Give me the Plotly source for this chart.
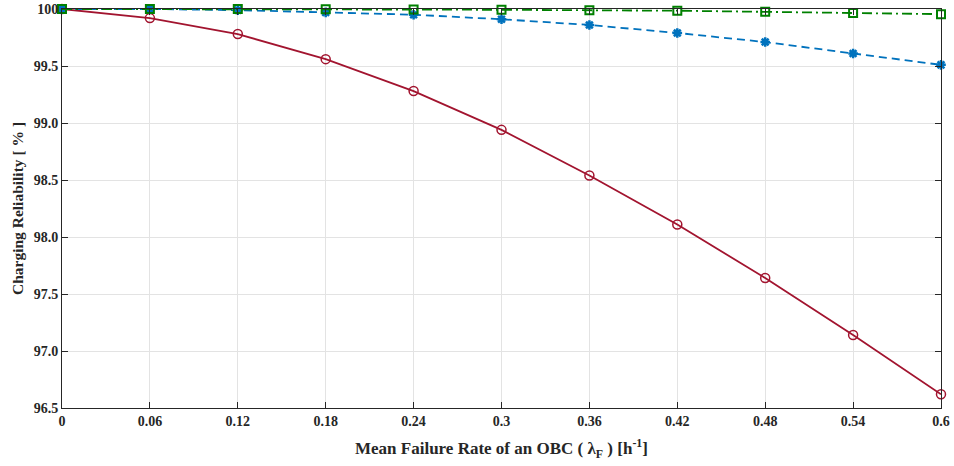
import plotly.graph_objects as go

# Mean failure rate of an OBC (per hour)
failure_rate = [0, 0.06, 0.12, 0.18, 0.24, 0.3, 0.36, 0.42, 0.48, 0.54, 0.6]

# Charging reliability [%] for the three configurations
reliability_red = [100.0, 99.92, 99.78, 99.56, 99.28, 98.94, 98.54, 98.11, 97.64, 97.14, 96.62]
reliability_blue = [100.0, 100.0, 99.99, 99.97, 99.95, 99.91, 99.86, 99.79, 99.71, 99.61, 99.51]
reliability_green = [100.0, 100.0, 100.0, 99.997, 99.995, 99.993, 99.99, 99.985, 99.975, 99.965, 99.955]

x_ticks = [0, 0.06, 0.12, 0.18, 0.24, 0.3, 0.36, 0.42, 0.48, 0.54, 0.6]
x_ticktext = ["0", "0.06", "0.12", "0.18", "0.24", "0.3", "0.36", "0.42", "0.48", "0.54", "0.6"]
y_ticks = [96.5, 97.0, 97.5, 98.0, 98.5, 99.0, 99.5, 100.0]
y_ticktext = ["96.5", "97.0", "97.5", "98.0", "98.5", "99.0", "99.5", "100"]

fig = go.Figure()

fig.add_trace(go.Scatter(
    x=failure_rate, y=reliability_red, mode="lines+markers",
    line=dict(color="#A2142F", width=1.8),
    marker=dict(symbol="circle-open", size=9, color="#A2142F", line=dict(width=1.5)),
    showlegend=False, cliponaxis=False,
))
fig.add_trace(go.Scatter(
    x=failure_rate, y=reliability_blue, mode="lines+markers",
    line=dict(color="#0072BD", width=1.8, dash="8px,5px"),
    marker=dict(symbol="asterisk-open", size=8, color="#0072BD", line=dict(width=2.5, color="#0072BD")),
    showlegend=False, cliponaxis=False,
))
fig.add_trace(go.Scatter(
    x=failure_rate, y=reliability_green, mode="lines+markers",
    line=dict(color="#008000", width=1.8, dash="10px,4px,2px,4px"),
    marker=dict(symbol="square-open", size=8, color="#008000", line=dict(width=2)),
    showlegend=False, cliponaxis=False,
))

tick_font = dict(family="Liberation Serif", size=14, color="#262626", weight="bold")

fig.update_layout(
    width=954, height=466,
    margin=dict(l=62, r=13, t=9, b=58),
    plot_bgcolor="white", paper_bgcolor="white",
    xaxis=dict(
        range=[0, 0.6], tickvals=x_ticks, ticktext=x_ticktext, automargin=False,
        ticks="inside", ticklen=6, tickcolor="#262626", mirror="ticks",
        showline=True, linecolor="#262626", linewidth=1,
        showgrid=True, gridcolor="#e3e3e3", zeroline=False,
        tickfont=tick_font,
        title=dict(text="Mean Failure Rate of an OBC ( λ<sub>F</sub> ) [h<sup>-1</sup>]",
                   font=dict(family="Liberation Serif", size=17, color="#262626", weight="bold"),
                   standoff=14),
    ),
    yaxis=dict(
        range=[96.5, 100], tickvals=y_ticks, ticktext=y_ticktext, automargin=False,
        ticks="inside", ticklen=6, tickcolor="#262626", mirror="ticks",
        showline=True, linecolor="#262626", linewidth=1,
        showgrid=True, gridcolor="#e3e3e3", zeroline=False,
        tickfont=tick_font,
        title=dict(text="Charging Reliability [ % ]",
                   font=dict(family="Liberation Serif", size=15.5, color="#262626", weight="bold"),
                   standoff=6),
    ),
)

fig.write_html("out.html")
